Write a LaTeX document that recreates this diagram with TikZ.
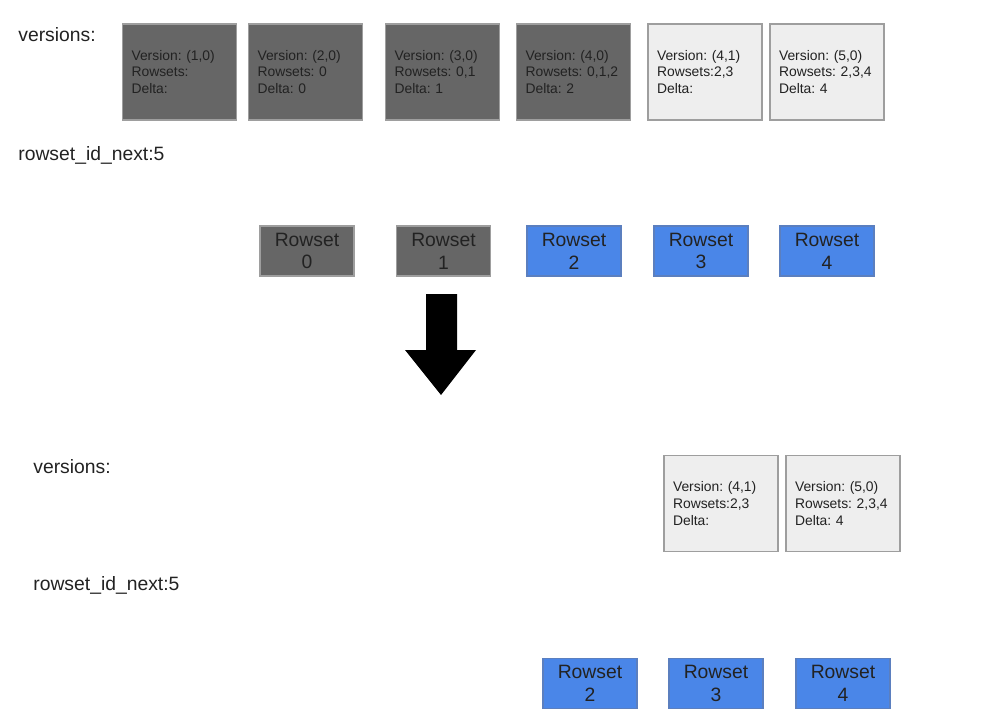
\documentclass[tikz,border=0pt]{standalone}
\usepackage{fontspec}
\setmainfont{Liberation Sans}
\frenchspacing
\definecolor{RSdark}{HTML}{666666}
\definecolor{RSlight}{HTML}{EEEEEE}
\definecolor{RSblue}{HTML}{4A86E8}
\definecolor{RSedge}{HTML}{9E9E9E}
\definecolor{RSblueedge}{HTML}{5B7FBF}
\definecolor{RStext}{HTML}{222222}
\usetikzlibrary{positioning}

\tikzset{
   verbox/.style={draw=RSedge, line width=0.6pt, minimum width=2.28cm, minimum height=1.92cm,
      inner xsep=0.18cm, text width=1.92cm, align=left, text=RStext,
      font=\fontsize{7.9}{9.6}\selectfont},
   oldver/.style={verbox, fill=RSdark},
   newver/.style={verbox, fill=RSlight},
   rowbox/.style={draw=RSedge, line width=0.6pt, minimum width=1.88cm, minimum height=1.0cm,
      inner sep=0pt, align=center, text=RStext, font=\fontsize{11}{13}\selectfont},
   oldrow/.style={rowbox, fill=RSdark},
   newrow/.style={rowbox, fill=RSblue, draw=RSblueedge},
   heading/.style={anchor=west, inner sep=0pt, text=RStext, font=\fontsize{11}{13}\selectfont}
}

\begin{document}
\begin{tikzpicture}[x=0.02cm, y=-0.02cm]
            \useasboundingbox (0,0) rectangle (1006,723);
            % Before: labels
            \node[heading] (vlabel) at (18,35) {versions:};
            \node[heading] (nlabel) at (18,155) {rowset\_id\_next:5};
            % Before: versions
            \node[oldver] (v1) at (179.5,72) {Version: (1,0)\\Rowsets:\\Delta:};
            \node[oldver] (v2) at (305.5,72) {Version: (2,0)\\Rowsets: 0\\Delta: 0};
            \node[oldver] (v3) at (442.5,72) {Version: (3,0)\\Rowsets: 0,1\\Delta: 1};
            \node[oldver] (v4) at (573.5,72) {Version: (4,0)\\Rowsets: 0,1,2\\Delta: 2};
            \node[newver] (v5) at (705,72) {Version: (4,1)\\Rowsets:2,3\\Delta:};
            \node[newver] (v6) at (827,72) {Version: (5,0)\\Rowsets: 2,3,4\\Delta: 4};
            % Before: rowsets
            \node[oldrow] (r0) at (307,251) {Rowset\\0};
            \node[oldrow] (r1) at (443.5,251) {Rowset\\1};
            \node[newrow] (r2) at (574,251) {Rowset\\2};
            \node[newrow] (r3) at (701,251) {Rowset\\3};
            \node[newrow] (r4) at (827,251) {Rowset\\4};
            % Big arrow
            \fill[black] (426,294) -- (457,294) -- (457,350) -- (476,350) -- (441,395)
               -- (405,350) -- (426,350) -- cycle;
            % After: labels
            \node[heading] (vlabelB) at (33,467) {versions:};
            \node[heading] (nlabelB) at (33,585) {rowset\_id\_next:5};
            % After: versions
            \node[newver] (w5) at (721,503.5) {Version: (4,1)\\Rowsets:2,3\\Delta:};
            \node[newver] (w6) at (843,503.5) {Version: (5,0)\\Rowsets: 2,3,4\\Delta: 4};
            % After: rowsets
            \node[newrow] (s2) at (590,683.5) {Rowset\\2};
            \node[newrow] (s3) at (716,683.5) {Rowset\\3};
            \node[newrow] (s4) at (843,683.5) {Rowset\\4};
         \end{tikzpicture}
\end{document}
